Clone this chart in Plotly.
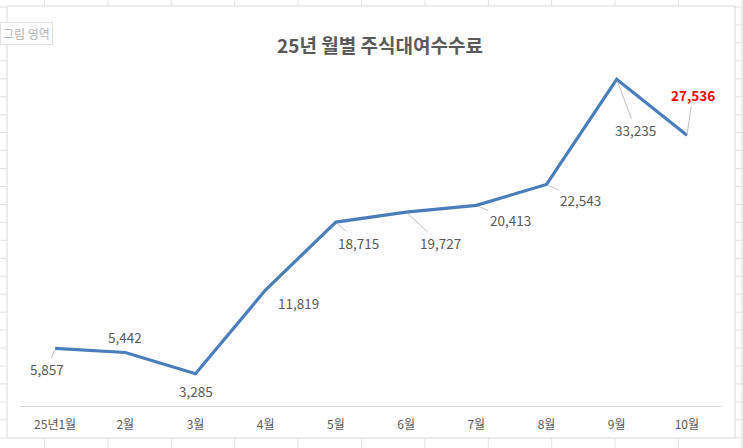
import plotly.graph_objects as go

months = ["25년1월", "2월", "3월", "4월", "5월", "6월", "7월", "8월", "9월", "10월"]
fees = [5857, 5442, 3285, 11819, 18715, 19727, 20413, 22543, 33235, 27536]
labels = ["5,857", "5,442", "3,285", "11,819", "18,715", "19,727", "20,413", "22,543", "33,235", "27,536"]

# label offsets (pixels) from each point
off_x = [-8, 0, 0, 33, 23, 34, 34, 34, 19, 6]
off_y = [21, -16, 17, 13, 21, 31, 15, 16, 51, -40]
leader = [True, False, False, False, True, True, True, True, True, True]

W, H = 743, 448
FONT = "Noto Sans CJK KR, Malgun Gothic, sans-serif"

def px(x):
    return x / W

def py(y):
    return 1 - y / H

fig = go.Figure()
fig.add_trace(go.Scatter(
    x=months, y=fees, mode="lines",
    line=dict(color="#4a7ebb", width=3.2),
    hoverinfo="skip", showlegend=False,
))

for i, (m, v, t) in enumerate(zip(months, fees, labels)):
    last = i == len(months) - 1
    fig.add_annotation(
        x=m, y=v, text=f"<b>{t}</b>" if last else t, xref="x", yref="y",
        ax=off_x[i], ay=off_y[i], axref="pixel", ayref="pixel",
        showarrow=True, arrowhead=0, arrowwidth=1,
        arrowcolor="#bfbfbf" if leader[i] else "rgba(0,0,0,0)",
        standoff=2,
        font=dict(family=FONT, size=13.5,
                  color="#ff0000" if last else "#595959"),
    )

shapes = []
# spreadsheet grid behind chart
col = 44.5
while col < W:
    shapes.append(dict(type="line", xref="paper", yref="paper",
                       x0=px(col), x1=px(col), y0=0, y1=1,
                       line=dict(color="#e2e2e2", width=1), layer="below"))
    col += 63.4
row = 7.0
while row < H:
    shapes.append(dict(type="line", xref="paper", yref="paper",
                       x0=0, x1=1, y0=py(row), y1=py(row),
                       line=dict(color="#e2e2e2", width=1), layer="below"))
    row += 17.95
# chart area
shapes.append(dict(type="rect", xref="paper", yref="paper",
                   x0=px(7), x1=px(735), y0=py(438), y1=py(6),
                   fillcolor="white", line=dict(color="#d9d9d9", width=1),
                   layer="below"))
fig.update_layout(shapes=shapes)

# tooltip box "그림 영역"
fig.add_annotation(
    xref="paper", yref="paper", x=px(0), y=py(33), xanchor="left", yanchor="middle",
    text="그림 영역", showarrow=False,
    font=dict(family=FONT, size=12, color="#b0b0b0"),
    bgcolor="white", bordercolor="#e0e0e0", borderwidth=1, borderpad=2,
)

fig.update_layout(
    width=W, height=H,
    margin=dict(l=0, r=0, t=0, b=0),
    paper_bgcolor="white", plot_bgcolor="rgba(0,0,0,0)",
    title=dict(text="<b>25년 월별 주식대여수수료</b>", x=px(380), xanchor="center",
               y=py(46), yanchor="middle",
               font=dict(family=FONT, size=19, color="#595959")),
    xaxis=dict(domain=[px(20), px(722)], range=[-0.5, 9.5], showgrid=False,
               showline=True, linecolor="#d9d9d9", linewidth=1, ticks="",
               zeroline=False, ticklabelstandoff=8,
               tickfont=dict(family=FONT, size=12, color="#595959"),
               fixedrange=True),
    yaxis=dict(domain=[py(406), py(62)], range=[0, 35000], visible=False,
               showgrid=False, zeroline=False, fixedrange=True),
    showlegend=False,
)

fig.write_html("out.html")
